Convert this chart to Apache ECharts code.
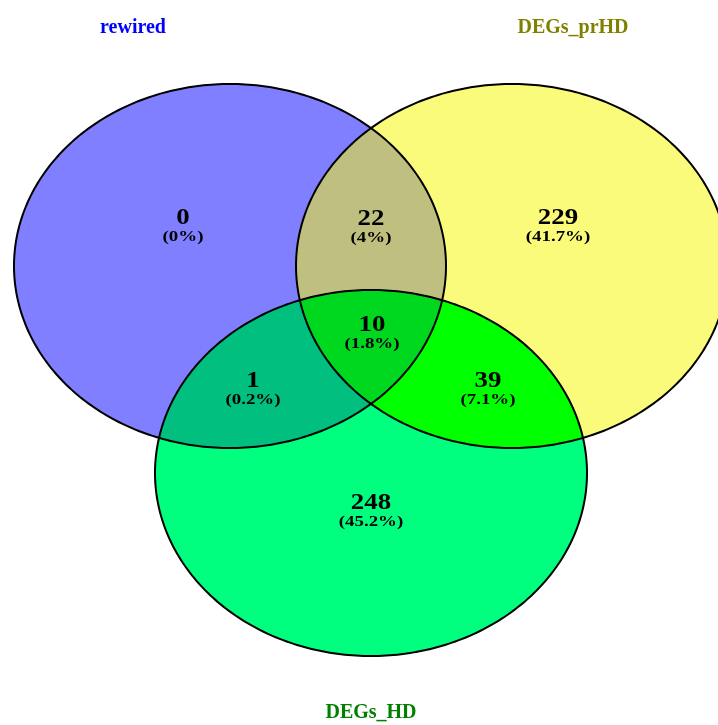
<!DOCTYPE html>
<html>
<head>
<meta charset="utf-8">
<script src="https://cdn.jsdelivr.net/npm/echarts@6/dist/echarts.min.js"></script>
<style>
  html, body { margin: 0; padding: 0; background: #fff; }
  #main { width: 718px; height: 725px; }
</style>
</head>
<body>
<div id="main"></div>
<script>
// sets
var setNames = ['rewired', 'DEGs_prHD', 'DEGs_HD'];
var setNameColors = ['#0000ff', '#808000', '#008000'];
// ellipse geometry in picture units
var ellCx = [230, 512, 371];
var ellCy = [266, 266, 473];
var ellRx = [216, 216, 216];
var ellRy = [182, 182, 183];

// fill colour of each overlap (painted in this order)
var regionSets = [[0], [1], [2], [0, 1], [0, 2], [1, 2], [0, 1, 2]];
var regionColors = ['#7f7fff', '#fbfb7b', '#00ff7f', '#bfbf7f', '#00bf7f', '#00ff00', '#00d820'];

// region counts and shares
var regionCounts = ['0', '22', '229', '1', '10', '39', '248'];
var regionShares = ['(0%)', '(4%)', '(41.7%)', '(0.2%)', '(1.8%)', '(7.1%)', '(45.2%)'];
var regionPos = [[183, 226], [371, 227], [558, 226], [253, 389], [372, 333], [488, 389], [371, 511]];
var namePos = [[133, 28], [573, 28], [371, 713]];

var chart = echarts.init(document.getElementById('main'));

function ellipsePoly(i) {
  var pts = [];
  for (var k = 0; k < 360; k++) {
    var t = k / 360 * Math.PI * 2;
    pts.push([ellCx[i] + ellRx[i] * Math.cos(t), ellCy[i] + ellRy[i] * Math.sin(t)]);
  }
  return pts;
}

function area(poly) {
  var s = 0;
  for (var i = 0; i < poly.length; i++) {
    var a = poly[i], b = poly[(i + 1) % poly.length];
    s += a[0] * b[1] - b[0] * a[1];
  }
  return s;
}

// Sutherland-Hodgman, clip polygon is convex
function clipPoly(subject, clip) {
  var orient = area(clip) > 0 ? 1 : -1;
  var out = subject;
  for (var i = 0; i < clip.length && out.length; i++) {
    var a = clip[i], b = clip[(i + 1) % clip.length];
    var inside = function (p) {
      return orient * ((b[0] - a[0]) * (p[1] - a[1]) - (b[1] - a[1]) * (p[0] - a[0])) >= 0;
    };
    var cross = function (p, q) {
      var dx = q[0] - p[0], dy = q[1] - p[1];
      var ex = b[0] - a[0], ey = b[1] - a[1];
      var den = dx * ey - dy * ex;
      var t = ((a[0] - p[0]) * ey - (a[1] - p[1]) * ex) / den;
      return [p[0] + t * dx, p[1] + t * dy];
    };
    var input = out;
    out = [];
    for (var j = 0; j < input.length; j++) {
      var cur = input[j], prev = input[(j + input.length - 1) % input.length];
      if (inside(cur)) {
        if (!inside(prev)) out.push(cross(prev, cur));
        out.push(cur);
      } else if (inside(prev)) {
        out.push(cross(prev, cur));
      }
    }
  }
  return out;
}

var ellPolys = [0, 1, 2].map(ellipsePoly);

var option = {
  animation: false,
  grid: { left: 0, right: 0, top: 0, bottom: 0 },
  xAxis: { type: 'value', min: 0, max: 718, show: false },
  yAxis: { type: 'value', min: 0, max: 725, inverse: true, show: false },
  series: [
    {
      type: 'custom',
      coordinateSystem: 'cartesian2d',
      clip: false,
      data: regionSets.map(function (s, i) { return [i]; }),
      renderItem: function (params, api) {
        var sets = regionSets[params.dataIndex];
        var poly = ellPolys[sets[0]];
        for (var k = 1; k < sets.length; k++) poly = clipPoly(poly, ellPolys[sets[k]]);
        return {
          type: 'polygon',
          shape: { points: poly.map(function (p) { return api.coord(p); }) },
          style: { fill: regionColors[params.dataIndex], stroke: regionColors[params.dataIndex], lineWidth: 0.5 }
        };
      }
    },
    {
      type: 'custom',
      coordinateSystem: 'cartesian2d',
      clip: false,
      z: 3,
      data: [[0], [1], [2]],
      renderItem: function (params, api) {
        return {
          type: 'polygon',
          shape: { points: ellPolys[params.dataIndex].map(function (p) { return api.coord(p); }) },
          style: { fill: 'none', stroke: '#000', lineWidth: 2 }
        };
      }
    },
    {
      type: 'custom',
      coordinateSystem: 'cartesian2d',
      clip: false,
      z: 4,
      data: regionPos,
      renderItem: function (params, api) {
        var i = params.dataIndex;
        var p = api.coord([api.value(0), api.value(1)]);
        return {
          type: 'group',
          children: [
            { type: 'text', x: p[0], y: p[1] - 8, scaleX: 1.12,
              style: { text: regionCounts[i], fill: '#000', font: 'bold 24px "Liberation Serif"', align: 'center', verticalAlign: 'middle' } },
            { type: 'text', x: p[0], y: p[1] + 11, scaleX: 1.35,
              style: { text: regionShares[i], fill: '#000', font: 'bold 14px "Liberation Serif"', align: 'center', verticalAlign: 'middle' } }
          ]
        };
      }
    },
    {
      type: 'custom',
      coordinateSystem: 'cartesian2d',
      clip: false,
      z: 4,
      data: namePos,
      renderItem: function (params, api) {
        var i = params.dataIndex;
        var p = api.coord([api.value(0), api.value(1)]);
        return {
          type: 'text', x: p[0], y: p[1],
          style: { text: setNames[i], fill: setNameColors[i], font: 'bold 20px "Liberation Serif"', align: 'center', verticalAlign: 'middle' }
        };
      }
    }
  ]
};
chart.setOption(option);
</script>
</body>
</html>
